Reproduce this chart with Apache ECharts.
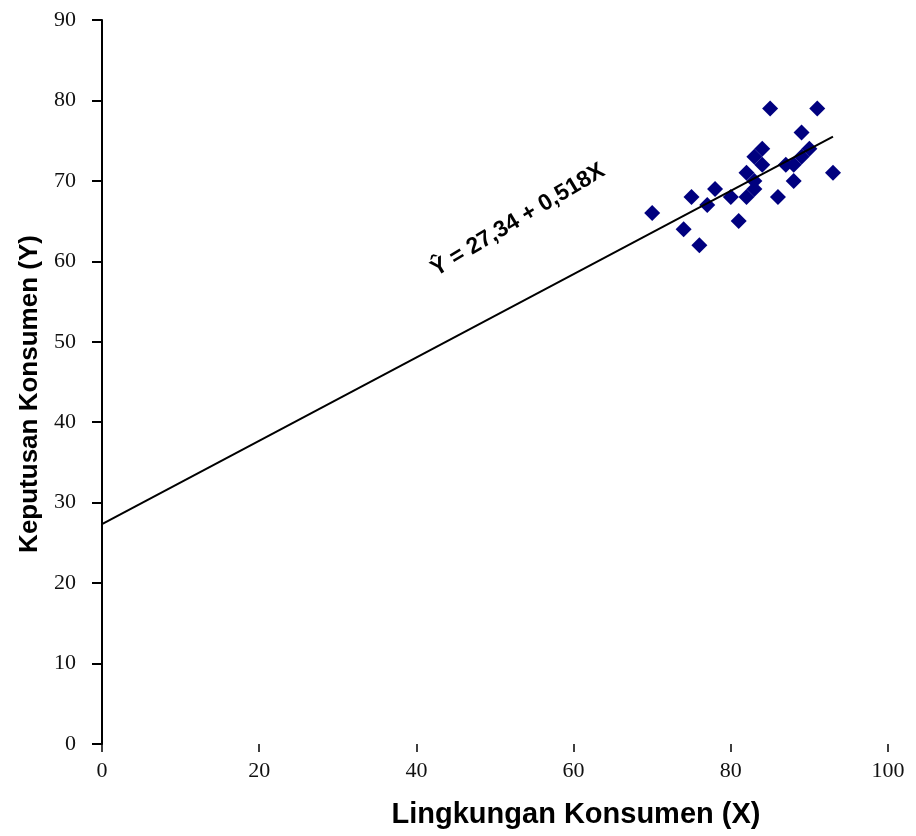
<!DOCTYPE html>
<html>
<head>
<meta charset="utf-8">
<script src="https://cdn.jsdelivr.net/npm/echarts@6/dist/echarts.min.js"></script>
<style>
  html, body { margin: 0; padding: 0; background: #fff; }
  #chart { width: 916px; height: 836px; }
</style>
</head>
<body>
<div id="chart"></div>
<script>
// observed pairs (X = Lingkungan Konsumen, Y = Keputusan Konsumen)
var xVals = [70, 74, 76, 75, 77, 78, 80, 81, 82, 82, 83, 83, 83, 84, 84, 85, 86, 87, 88, 88, 89, 89, 90, 91, 93];
var yVals = [66, 64, 62, 68, 67, 69, 68, 65, 68, 71, 69, 70, 73, 74, 72, 79, 68, 72, 70, 72, 76, 73, 74, 79, 71];
// regression line end points
var fitX = [0, 93];
var fitY = [27.34, 75.5];
var equationText = 'Ŷ = 27,34 + 0,518X';

var points = [];
for (var i = 0; i < xVals.length; i++) {
    points.push([xVals[i], yVals[i]]);
}
var fitLine = [];
for (var j = 0; j < fitX.length; j++) {
    fitLine.push([fitX[j], fitY[j]]);
}

var myChart = echarts.init(document.getElementById('chart'));
var serif = '"Liberation Serif", "Times New Roman", serif';
var sans = '"Liberation Sans", Arial, sans-serif';

myChart.setOption({
    animation: false,
    backgroundColor: '#fff',
    grid: { left: 102, right: 28, top: 20, bottom: 92 },
    xAxis: {
        type: 'value',
        min: 0, max: 100, interval: 20,
        name: 'Lingkungan Konsumen (X)',
        nameLocation: 'middle',
        nameGap: 56,
        nameTextStyle: { fontFamily: sans, fontWeight: 'bold', fontSize: 29, color: '#000', padding: [0, 0, 0, 162] },
        axisLine: { show: false },
        axisTick: { show: true, length: 8, inside: false, lineStyle: { color: '#000', width: 1.5 } },
        axisLabel: { margin: 16, fontFamily: serif, fontSize: 22, color: '#111' },
        splitLine: { show: false }
    },
    yAxis: {
        type: 'value',
        min: 0, max: 90, interval: 10,
        name: 'Keputusan Konsumen (Y)',
        nameLocation: 'middle',
        nameGap: 58,
        nameTextStyle: { fontFamily: sans, fontWeight: 'bold', fontSize: 26, color: '#000', padding: [0, 24, 0, 0] },
        axisLine: { show: true, lineStyle: { color: '#000', width: 2 } },
        axisTick: { show: true, length: 10, lineStyle: { color: '#000', width: 2 } },
        axisLabel: { margin: 26, fontFamily: serif, fontSize: 22, color: '#111' },
        splitLine: { show: false }
    },
    series: [
        {
            type: 'line',
            data: fitLine,
            symbol: 'none',
            lineStyle: { color: '#000', width: 2 },
            z: 3
        },
        {
            type: 'scatter',
            data: points,
            symbol: 'diamond',
            symbolSize: 16,
            itemStyle: { color: '#00007f', opacity: 1 },
            z: 2
        }
    ],
    graphic: [
        {
            type: 'text',
            x: 518,
            y: 220,
            rotation: 0.54,
            style: {
                text: equationText,
                fontFamily: sans,
                fontWeight: 'bold',
                fontSize: 23,
                fill: '#000',
                textAlign: 'center',
                textVerticalAlign: 'middle'
            }
        }
    ]
});
</script>
</body>
</html>
